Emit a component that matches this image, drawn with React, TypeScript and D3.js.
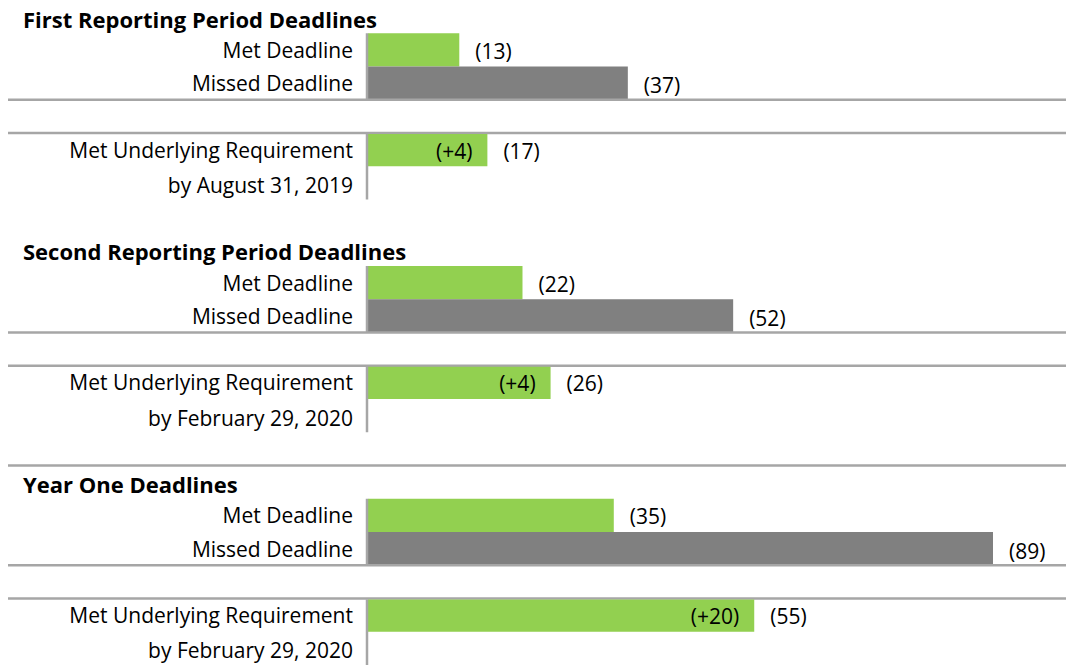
import React from "react";
import * as d3 from "d3";

const sectionTitles = [
  "First Reporting Period Deadlines",
  "Second Reporting Period Deadlines",
  "Year One Deadlines",
];
const metDeadline = [13, 22, 35];
const missedDeadline = [37, 52, 89];
const metUnderlying = [17, 26, 55];
const additionalMet = [4, 4, 20];
const underlyingDates = ["by August 31, 2019", "by February 29, 2020", "by February 29, 2020"];
const rowLabels = ["Met Deadline", "Missed Deadline", "Met Underlying Requirement"];

const W = 1066;
const H = 665;
const GREEN = "#92d050";
const GRAY = "#808080";
const LINE = "#a6a6a6";
const FONT = "'Open Sans', sans-serif";
const FS = 21;

export default function App() {
  // 20 row slots down the page: per section title, met, missed, gap, underlying, date, blank
  const slots = d3.range(20);
  const y = d3.scaleBand<number>().domain(slots).range([0, H]).padding(0);
  const bw = y.bandwidth();
  const x = d3.scaleLinear().domain([0, 89]).range([368, 993]);
  const labelX = 353;
  const axisX = 367;

  return (
    <svg
      width={W}
      height={H}
      style={{ position: "absolute", left: 0, top: 0, display: "block", background: "#fff" }}
      fontFamily={FONT}
    >
      {sectionTitles.map((title, i) => {
        const s = i === 2 ? 14 : i * 7;
        const tY = y(s)!;
        const metY = y(s + 1)!;
        const missY = y(s + 2)!;
        const gapY = y(s + 3)!;
        const undY = y(s + 4)!;
        const dateY = y(s + 5)!;
        return (
          <g key={title}>
            {i === 2 && <line x1={8} x2={W} y1={tY} y2={tY} stroke={LINE} strokeWidth={2.5} />}
            <text x={23} y={tY + bw / 2 + 2} dominantBaseline="central" fontWeight="bold" fontSize={22} fill="#000">
              {title}
            </text>
            {/* Met deadline */}
            <rect x={x(0)} y={metY} width={x(metDeadline[i]) - x(0)} height={bw} fill={GREEN} />
            <text x={labelX} y={metY + bw / 2} dominantBaseline="central" textAnchor="end" fontSize={FS} fill="#000">
              {rowLabels[0]}
            </text>
            <text x={x(metDeadline[i]) + 16} y={metY + bw / 2 + 1} dominantBaseline="central" fontSize={FS} fill="#000">
              ({metDeadline[i]})
            </text>
            {/* Missed deadline */}
            <rect x={x(0)} y={missY} width={x(missedDeadline[i]) - x(0)} height={bw} fill={GRAY} />
            <text x={labelX} y={missY + bw / 2} dominantBaseline="central" textAnchor="end" fontSize={FS} fill="#000">
              {rowLabels[1]}
            </text>
            <text x={x(missedDeadline[i]) + 16} y={missY + bw / 2 + 2} dominantBaseline="central" fontSize={FS} fill="#000">
              ({missedDeadline[i]})
            </text>
            <line x1={axisX} x2={axisX} y1={metY} y2={gapY} stroke={LINE} strokeWidth={2.5} />
            <line x1={8} x2={W} y1={gapY} y2={gapY} stroke={LINE} strokeWidth={2.5} />
            <line x1={8} x2={W} y1={undY} y2={undY} stroke={LINE} strokeWidth={2.5} />
            {/* Met underlying requirement */}
            <rect x={x(0)} y={undY + 1} width={x(metUnderlying[i]) - x(0)} height={bw - 1} fill={GREEN} />
            <line x1={axisX} x2={axisX} y1={undY + 1} y2={dateY + bw} stroke={LINE} strokeWidth={2.5} />
            <text x={labelX} y={undY + bw / 2} dominantBaseline="central" textAnchor="end" fontSize={FS} fill="#000">
              {rowLabels[2]}
            </text>
            <text x={labelX} y={dateY + bw / 2 + 2} dominantBaseline="central" textAnchor="end" fontSize={FS} fill="#000">
              {underlyingDates[i]}
            </text>
            <text x={x(metUnderlying[i]) - 15} y={undY + bw / 2 + 1} dominantBaseline="central" textAnchor="end" fontSize={FS} fill="#000">
              (+{additionalMet[i]})
            </text>
            <text x={x(metUnderlying[i]) + 16} y={undY + bw / 2 + 1} dominantBaseline="central" fontSize={FS} fill="#000">
              ({metUnderlying[i]})
            </text>
          </g>
        );
      })}
    </svg>
  );
}
